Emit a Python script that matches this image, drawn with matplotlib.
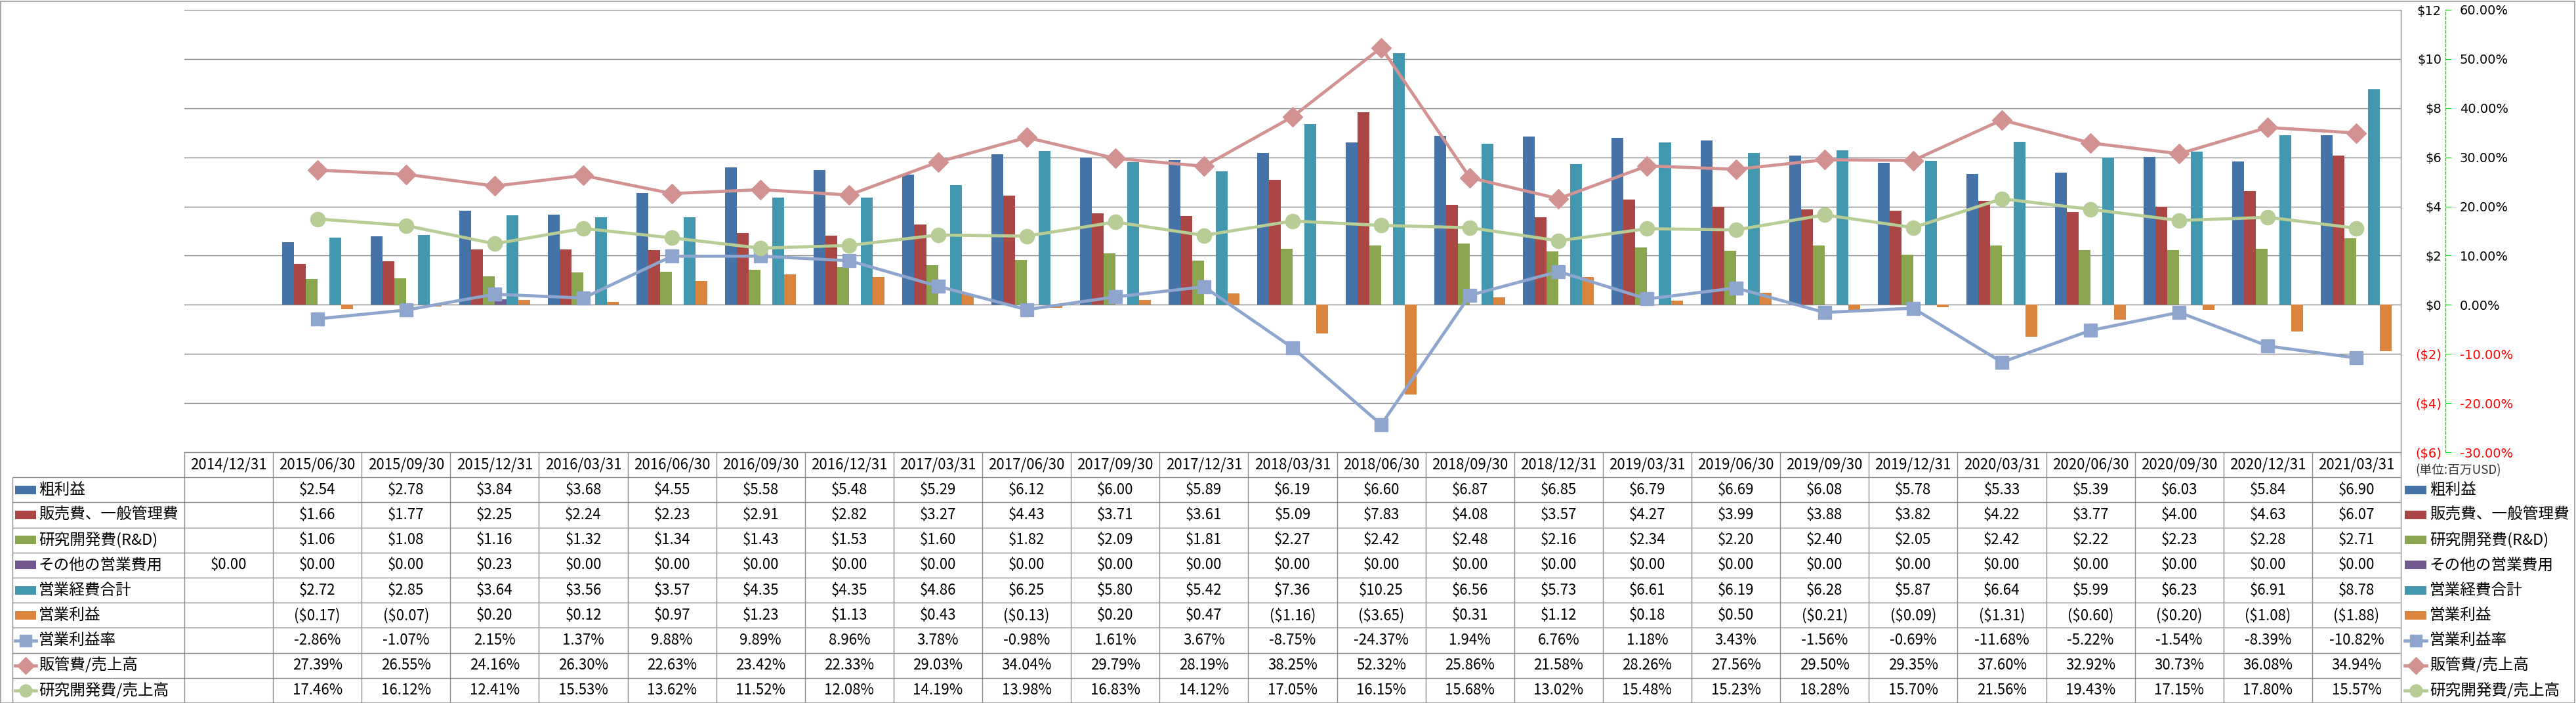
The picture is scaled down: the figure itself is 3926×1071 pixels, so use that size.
import numpy as np
import matplotlib
matplotlib.use('Agg')
import matplotlib.pyplot as plt
import matplotlib.transforms as mtransforms
from matplotlib.patches import Rectangle

plt.rcParams['font.family'] = ['Noto Sans CJK JP', 'DejaVu Sans']

nan = np.nan

dates = ['2014/12/31', '2015/06/30', '2015/09/30', '2015/12/31', '2016/03/31', '2016/06/30',
         '2016/09/30', '2016/12/31', '2017/03/31', '2017/06/30', '2017/09/30', '2017/12/31',
         '2018/03/31', '2018/06/30', '2018/09/30', '2018/12/31', '2019/03/31', '2019/06/30',
         '2019/09/30', '2019/12/31', '2020/03/31', '2020/06/30', '2020/09/30', '2020/12/31',
         '2021/03/31']

gross_profit = [nan, 2.54, 2.78, 3.84, 3.68, 4.55, 5.58, 5.48, 5.29, 6.12, 6.00, 5.89, 6.19,
                6.60, 6.87, 6.85, 6.79, 6.69, 6.08, 5.78, 5.33, 5.39, 6.03, 5.84, 6.90]
sga = [nan, 1.66, 1.77, 2.25, 2.24, 2.23, 2.91, 2.82, 3.27, 4.43, 3.71, 3.61, 5.09,
       7.83, 4.08, 3.57, 4.27, 3.99, 3.88, 3.82, 4.22, 3.77, 4.00, 4.63, 6.07]
rnd = [nan, 1.06, 1.08, 1.16, 1.32, 1.34, 1.43, 1.53, 1.60, 1.82, 2.09, 1.81, 2.27,
       2.42, 2.48, 2.16, 2.34, 2.20, 2.40, 2.05, 2.42, 2.22, 2.23, 2.28, 2.71]
other_opex = [0.00, 0.00, 0.00, 0.23, 0.00, 0.00, 0.00, 0.00, 0.00, 0.00, 0.00, 0.00, 0.00,
              0.00, 0.00, 0.00, 0.00, 0.00, 0.00, 0.00, 0.00, 0.00, 0.00, 0.00, 0.00]
total_opex = [nan, 2.72, 2.85, 3.64, 3.56, 3.57, 4.35, 4.35, 4.86, 6.25, 5.80, 5.42, 7.36,
              10.25, 6.56, 5.73, 6.61, 6.19, 6.28, 5.87, 6.64, 5.99, 6.23, 6.91, 8.78]
op_income = [nan, -0.17, -0.07, 0.20, 0.12, 0.97, 1.23, 1.13, 0.43, -0.13, 0.20, 0.47, -1.16,
             -3.65, 0.31, 1.12, 0.18, 0.50, -0.21, -0.09, -1.31, -0.60, -0.20, -1.08, -1.88]

op_margin = [nan, -2.86, -1.07, 2.15, 1.37, 9.88, 9.89, 8.96, 3.78, -0.98, 1.61, 3.67, -8.75,
             -24.37, 1.94, 6.76, 1.18, 3.43, -1.56, -0.69, -11.68, -5.22, -1.54, -8.39, -10.82]
sga_ratio = [nan, 27.39, 26.55, 24.16, 26.30, 22.63, 23.42, 22.33, 29.03, 34.04, 29.79, 28.19,
             38.25, 52.32, 25.86, 21.58, 28.26, 27.56, 29.50, 29.35, 37.60, 32.92, 30.73,
             36.08, 34.94]
rnd_ratio = [nan, 17.46, 16.12, 12.41, 15.53, 13.62, 11.52, 12.08, 14.19, 13.98, 16.83, 14.12,
             17.05, 16.15, 15.68, 13.02, 15.48, 15.23, 18.28, 15.70, 21.56, 19.43, 17.15,
             17.80, 15.57]

bar_labels = ['粗利益', '販売費、一般管理費', '研究開発費(R&D)', 'その他の営業費用', '営業経費合計', '営業利益']
line_labels = ['営業利益率', '販管費/売上高', '研究開発費/売上高']
unit_label = '(単位:百万USD)'

bar_series = [gross_profit, sga, rnd, other_opex, total_opex, op_income]
bar_colors = ['#4572A7', '#AA4643', '#89A54E', '#71588F', '#4198AF', '#DB843D']
line_series = [op_margin, sga_ratio, rnd_ratio]
line_colors = ['#8EA6CE', '#D29292', '#B8CD96']
line_markers = ['s', 'D', 'o']
line_ms = [15, 15.5, 16]


def fmt_money(v):
    if np.isnan(v):
        return ''
    return f'${v:.2f}' if v >= 0 else f'(${-v:.2f})'


def fmt_pct(v):
    if np.isnan(v):
        return ''
    return f'{v:.2f}%'


W, H = 3926, 1071
fig = plt.figure(figsize=(W / 100, H / 100), dpi=100)
fig.patch.set_facecolor('white')
ax = fig.add_axes([281 / W, 1 - 689 / H, (3659 - 281) / W, (689 - 15) / H])

grid_c = '#868686'
x = np.arange(len(dates))
n_bars = len(bar_series)
bw = 0.8 / n_bars
for k, (vals, col) in enumerate(zip(bar_series, bar_colors)):
    ax.bar(x + (k - (n_bars - 1) / 2) * bw, vals, bw, color=col, linewidth=0, zorder=2)

ax.set_xlim(-0.5, len(dates) - 0.5)
ax.set_ylim(-6, 12)
ax.set_yticks(np.arange(-6, 13, 2))
ax.set_xticks([])
ax.yaxis.grid(True, color=grid_c, linewidth=1.0)
ax.set_axisbelow(True)

ax2 = ax.twinx()
for vals, col, mk, ms in zip(line_series, line_colors, line_markers, line_ms):
    ax2.plot(x, np.array(vals) / 100, color=col, linewidth=3.4, marker=mk, markersize=ms,
             markerfacecolor=col, markeredgecolor=col, zorder=3)
ax2.set_ylim(-0.3, 0.6)
ax2.set_yticks(np.arange(-0.3, 0.61, 0.1))
ax2.yaxis.set_major_formatter(plt.FuncFormatter(lambda v, p: f'{v * 100:.2f}%'))
for s in ['left', 'top', 'bottom']:
    ax2.spines[s].set_visible(False)
ax2.spines['right'].set_position(('outward', 48.6))
ax2.spines['right'].set_color('#00E000')
ax2.spines['right'].set_linestyle((0, (3, 2)))
ax2.spines['right'].set_linewidth(1.0)
ax2.tick_params(axis='y', length=6.5, width=0.8, color='#00E000', pad=9.5, labelsize=14)
for t, v in zip(ax2.yaxis.get_major_ticks(), ax2.get_yticks()):
    t.label2.set_fontfamily('DejaVu Sans')
    t.label2.set_color('red' if v < -1e-9 else 'black')

# $ labels sit on the right too, right-aligned against the green axis
# (twinx puts the first axis back on the left, so this comes after it)
for s in ['left', 'top']:
    ax.spines[s].set_visible(False)
for s in ['right', 'bottom']:
    ax.spines[s].set_visible(True)
    ax.spines[s].set_color(grid_c)
    ax.spines[s].set_linewidth(1.0)
ax.yaxis.tick_right()
ax.tick_params(axis='y', which='both', left=False, right=False, labelleft=False,
               labelright=True, length=0, pad=44.6, labelsize=14)
ax.yaxis.set_major_formatter(plt.FuncFormatter(
    lambda v, p: f'${v:.0f}' if v >= 0 else f'(${-v:.0f})'))
for t, v in zip(ax.yaxis.get_major_ticks(), ax.get_yticks()):
    t.label2.set_horizontalalignment('right')
    t.label2.set_fontfamily('DejaVu Sans')
    t.label2.set_color('red' if v < 0 else 'black')

# data table under the plot
trans = mtransforms.blended_transform_factory(ax.transData, ax.transAxes)
col_w_px = (3659 - 281) / len(dates)
ax_h_px = 689 - 15
row_h = 38.2 / ax_h_px
lab_left = -0.5 - (282 - 20) / col_w_px
n_rows = len(bar_labels) + len(line_labels)
tab_bottom = -(n_rows + 1) * row_h
tc = '#8C8C8C'
tfs = 16

for r in range(1, n_rows + 1):
    ax.hlines(-r * row_h, lab_left, len(dates) - 0.5, transform=trans, color=tc,
              linewidth=1.0, clip_on=False)
ax.hlines(tab_bottom, lab_left, len(dates) - 0.5, transform=trans, color=tc,
          linewidth=1.0, clip_on=False)
ax.vlines(np.arange(len(dates) + 1) - 0.5, tab_bottom, 0, transform=trans, color=tc,
          linewidth=1.0, clip_on=False)
ax.vlines(lab_left, tab_bottom, -row_h, transform=trans, color=tc, linewidth=1.0, clip_on=False)

for i, d in enumerate(dates):
    ax.text(i, -row_h / 2, d, transform=trans, ha='center', va='center', fontsize=tfs,
            clip_on=False)

rows = [[fmt_money(v) for v in s] for s in bar_series] + \
       [[fmt_pct(v) for v in s] for s in line_series]
for r, cells in enumerate(rows):
    yc = -(r + 1.5) * row_h
    for i, txt in enumerate(cells):
        ax.text(i, yc, txt, transform=trans, ha='center', va='center', fontsize=tfs,
                clip_on=False)

# legend keys: left inside the table and on the right next to it
key_h = 13 / ax_h_px


def draw_keys(x0, x1, x_txt):
    for r, (lab, col) in enumerate(zip(bar_labels, bar_colors)):
        yc = -(r + 1.5) * row_h
        ax.add_patch(Rectangle((x0, yc - key_h / 2), x1 - x0, key_h, transform=trans,
                               facecolor=col, edgecolor='none', clip_on=False))
        ax.text(x_txt, yc, lab, transform=trans, ha='left', va='center', fontsize=17,
                clip_on=False)
    for r, (lab, col, mk, ms) in enumerate(zip(line_labels, line_colors, line_markers, line_ms)):
        yc = -(len(bar_labels) + r + 1.5) * row_h
        ax.plot([x0, x1], [yc, yc], transform=trans, color=col, linewidth=3.4, clip_on=False)
        ax.plot([(x0 + x1) / 2], [yc], transform=trans, marker=mk, markersize=ms * 0.85,
                color=col, clip_on=False)
        ax.text(x_txt, yc, lab, transform=trans, ha='left', va='center', fontsize=17,
                clip_on=False)


draw_keys(-0.5 - (282 - 24) / col_w_px, -0.5 - (282 - 56) / col_w_px,
          -0.5 - (282 - 60) / col_w_px)
r0 = len(dates) - 0.5
draw_keys(r0 + 6 / col_w_px, r0 + 39 / col_w_px, r0 + 44 / col_w_px)

ax.text(r0 + 22 / col_w_px, -(717 - 689) / ax_h_px, unit_label, transform=trans,
        ha='left', va='center', fontsize=13.5, color='#333333', clip_on=False)

fig.add_artist(Rectangle((0.5 / W, 0.5 / H), 1 - 2.5 / W, 1 - 2 / H, transform=fig.transFigure,
                         facecolor='none', edgecolor='#9A9A9A', linewidth=1.2))

fig.savefig('out.png', dpi=100, facecolor='white')
